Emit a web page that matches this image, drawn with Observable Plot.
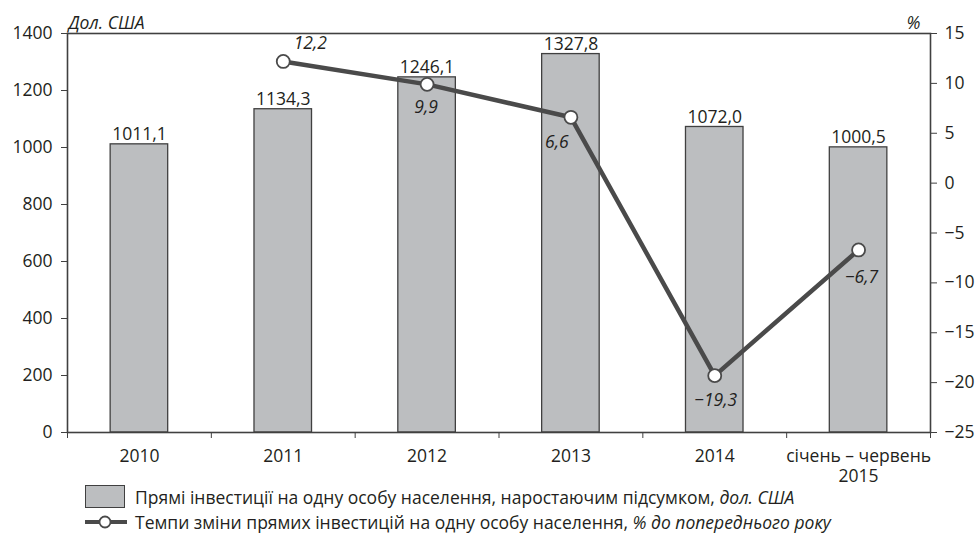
<!DOCTYPE html>
<html><head><meta charset="utf-8">
<script src="https://cdn.jsdelivr.net/npm/d3@7"></script>
<script src="https://cdn.jsdelivr.net/npm/@observablehq/plot@0.6"></script>
<style>
body{margin:0;background:#fff;font-family:"Open Sans",sans-serif;color:#231f20;}
#chart svg{display:block;}
#legend{margin-left:85px;font-size:17.5px;line-height:22px;margin-top:-6px;}
.row{display:flex;align-items:center;height:25px;white-space:nowrap;}
.sw{width:40px;height:23px;box-sizing:border-box;background:#bcbec0;border:1.3px solid #404040;margin-right:10px;}
svg.ln{margin-right:8px;}
</style></head><body>
<div id="chart"></div>
<div id="legend">
  <div class="row"><div class="sw"></div><span>Прямі інвестиції на одну особу населення, наростаючим підсумком, <i>дол. США</i></span></div>
  <div class="row"><svg class="ln" width="42" height="16"><line x1="0" y1="8" x2="42" y2="8" stroke="#4a4a4a" stroke-width="4"/><circle cx="20" cy="8" r="5.5" fill="#fff" stroke="#4a4a4a" stroke-width="1.8"/></svg><span>Темпи зміни прямих інвестицій на одну особу населення, <i>% до попереднього року</i></span></div>
</div>
<script>
const categories = ["2010", "2011", "2012", "2013", "2014", "січень – червень\n2015"];
const investments = [1011.1, 1134.3, 1246.1, 1327.8, 1072.0, 1000.5];
const growth = [null, 12.2, 9.9, 6.6, -19.3, -6.7];
const leftTicks = [0, 200, 400, 600, 800, 1000, 1200, 1400];
const rightTicks = [-25, -20, -15, -10, -5, 0, 5, 10, 15];

// label placement for growth labels (dx, dy) by category index
const growthLabelPlacement = {1: [27, -18], 2: [-1, 23], 3: [-14, 25], 4: [1, 25], 5: [3, 27]};

const P = p => (p + 25) * 35; // map percent onto left scale (−25..15 -> 0..1400)
const fmt = v => v.toFixed(1).replace(".", ",").replace("-", "−");
const bars = categories.map((c, i) => ({i, c, v: investments[i]}));
const pts = growth.map((g, i) => ({i, g, y: g == null ? null : P(g)})).filter(d => d.g != null);

const ink = "#231f20", dark = "#404040", lineC = "#4a4a4a", FS = 17.5;
const chart = Plot.plot({
  width: 979, height: 490,
  marginLeft: 67, marginRight: 49, marginTop: 33, marginBottom: 58,
  style: {fontFamily: "Open Sans, sans-serif", fontSize: FS + "px", color: ink, background: "#fff"},
  x: {type: "linear", domain: [-0.5, 5.5], axis: null},
  y: {domain: [0, 1400], axis: null},
  marks: [
    Plot.rectY(bars, {x1: d => d.i - 0.2, x2: d => d.i + 0.2, y: "v", fill: "#bcbec0", stroke: dark, strokeWidth: 1.3}),
    Plot.frame({stroke: dark, strokeWidth: 1.6}),
    Plot.axisY({ticks: leftTicks, tickSize: 6, tickPadding: 9, label: null, tickFormat: d => String(d), stroke: dark, fontSize: FS, color: ink}),
    Plot.axisY({anchor: "right", ticks: rightTicks.map(P), tickSize: 6, tickPadding: 8, label: null, stroke: dark, fontSize: FS,
      tickFormat: y => String(Math.round(y / 35 - 25)).replace("-", "−")}),
    Plot.axisX({ticks: [-0.5, 0.5, 1.5, 2.5, 3.5, 4.5, 5.5], tickSize: 6, label: null, tickFormat: () => "", stroke: dark}),
    Plot.axisX({ticks: [0, 1, 2, 3, 4, 5], tickSize: 0, tickPadding: 15, label: null, fontSize: FS, lineHeight: 1.15, tickFormat: i => categories[i]}),
    Plot.text(bars, {x: "i", y: "v", text: d => fmt(d.v), dy: -4, lineAnchor: "bottom", fontSize: FS, fill: ink}),
    Plot.line(pts, {x: "i", y: "y", stroke: lineC, strokeWidth: 4.5}),
    Plot.dot(pts, {x: "i", y: "y", r: 6.5, fill: "white", stroke: lineC, strokeWidth: 1.8}),
    ...pts.map(d => Plot.text([d], {x: "i", y: "y", text: e => fmt(e.g), fontStyle: "italic", fontSize: FS, fill: ink,
      dx: growthLabelPlacement[d.i][0], dy: growthLabelPlacement[d.i][1]})),
    Plot.text(["Дол. США"], {frameAnchor: "top-left", dx: 1, dy: -17, textAnchor: "start", fontStyle: "italic", fontSize: FS, fill: ink}),
    Plot.text(["%"], {frameAnchor: "top-right", dx: -10, dy: -17, textAnchor: "end", fontStyle: "italic", fontSize: FS, fill: ink})
  ]
});
document.getElementById("chart").appendChild(chart);
</script>
</body></html>
